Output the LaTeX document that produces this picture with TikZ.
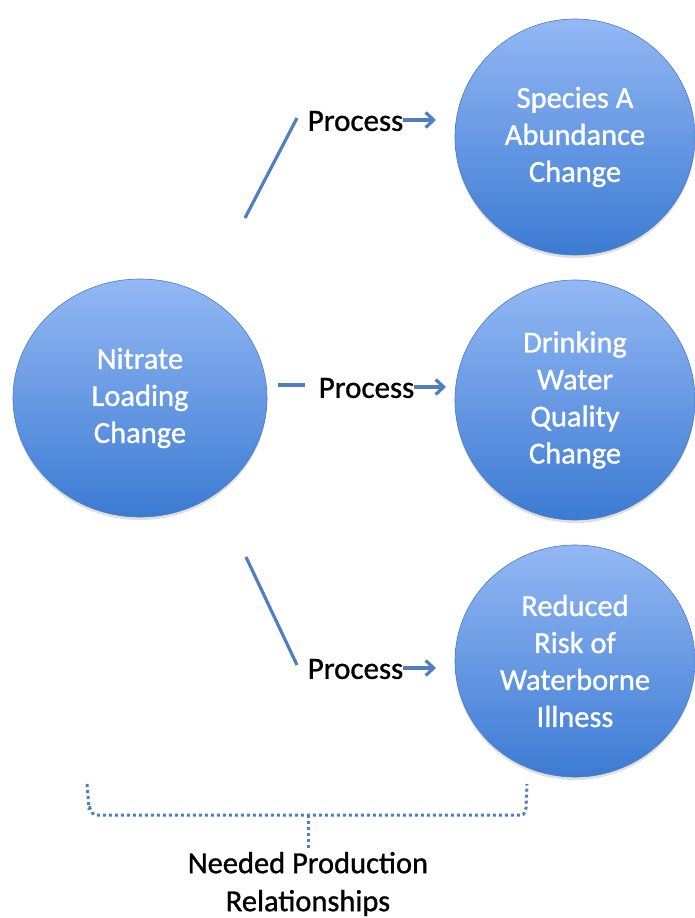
\documentclass[tikz,border=0pt]{standalone}
\usepackage{fontspec}
\setmainfont{Carlito}[FakeBold=1.0]
\usetikzlibrary{shapes.geometric,arrows.meta,shadows}
\definecolor{ctop}{HTML}{93B8F4}
\definecolor{cbot}{HTML}{3C7BD3}
\definecolor{cedge}{HTML}{4A7CC0}
\definecolor{lnc}{HTML}{4F7FC2}
\tikzset{
  bubble/.style={ellipse, minimum width=254pt, minimum height=238pt, top color=ctop, bottom color=cbot, draw=cedge, line width=0.6pt, text=white, font=\fontsize{30.5}{37}\selectfont, align=center, inner sep=0pt, drop shadow={shadow xshift=0pt, shadow yshift=-3pt, opacity=0.25}},
  proc/.style={font=\fontsize{31}{34}\selectfont, inner sep=0pt, text=black},
  conn/.style={draw=lnc, line width=3.2pt},
  arr/.style={draw=lnc, line width=3.2pt, -{Straight Barb[length=8pt,width=15pt,line width=3.2pt]}},
  brace/.style={draw=lnc, line width=3pt, dash pattern=on 3pt off 3pt},
  lbl/.style={font=\fontsize{30.5}{38}\selectfont, align=center, inner sep=0pt}
}
\begin{document}
\begin{tikzpicture}[x=1pt,y=-1pt]
\useasboundingbox (0,0) rectangle (694,918);
\node[bubble] (nit) at (140,398) {Nitrate\\Loading\\Change};
\node[bubble, minimum width=240pt, minimum height=236pt] (spa) at (575,137) {Species A\\Abundance\\Change};
\node[bubble, minimum width=240pt, minimum height=240pt] (dwq) at (575,400) {Drinking\\Water\\Quality\\Change};
\node[bubble, minimum width=240pt, minimum height=232pt] (rrw) at (575,661) {Reduced\\Risk of\\Waterborne\\Illness};

\node[proc] (p1) at (355.5,121) {Process};
\node[proc] (p2) at (366.5,388) {Process};
\node[proc] (p3) at (355.5,669) {Process};

\coordinate (a1) at (245,218);
\coordinate (b1) at (297,118);
\coordinate (a2) at (278,385);
\coordinate (b2) at (305,385);
\coordinate (a3) at (246,557);
\coordinate (b3) at (297,665);
\coordinate (e1) at (436,120);
\coordinate (e2) at (446,387);
\coordinate (e3) at (436,668);

\draw[conn] (a1) -- (b1);
\draw[conn] (a2) -- (b2);
\draw[conn] (a3) -- (b3);
\draw[arr] (p1.east |- e1) -- (e1);
\draw[arr] (p2.east |- e2) -- (e2);
\draw[arr] (p3.east |- e3) -- (e3);

\coordinate (bl) at (87,784);
\coordinate (br) at (527,784);
\coordinate (bm) at (308,815);
\coordinate (bs) at (308,849);
\draw[brace] (bl) -- (89,808) to[out=80,in=180] (95,815) -- (301,815) -- (bm) -- (315,815) -- (521,815) to[out=0,in=-100] (526,808) -- (br);
\draw[brace] (bm) -- (bs);
\node[lbl] (need) at (308,884) {Needed Production\\Relationships};
\end{tikzpicture}
\end{document}
